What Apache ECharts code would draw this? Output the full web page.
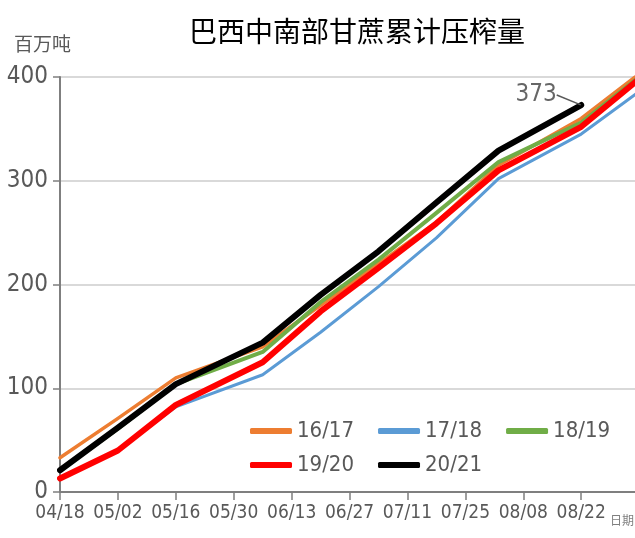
<!DOCTYPE html>
<html>
<head>
<meta charset="utf-8">
<script src="https://cdn.jsdelivr.net/npm/echarts@6/dist/echarts.min.js"></script>
<style>
  html, body { margin: 0; padding: 0; background: #fff; }
  #chart { width: 635px; height: 538px; }
</style>
</head>
<body>
<div id="chart"></div>
<script>
// days after 04/18 for each reading
const days = [0, 14, 28, 49, 63, 77, 91, 106, 126, 140];
const tickDays = [0, 14, 28, 42, 56, 70, 84, 98, 112, 126];
const tickLabels = ['04/18', '05/02', '05/16', '05/30', '06/13', '06/27', '07/11', '07/25', '08/08', '08/22'];

const s1617 = [33, 71, 110, 140, 180, 220, 260, 315, 360, 403];
const s1718 = [13, 40, 82, 113, 154, 198, 245, 302, 345, 386];
const s1819 = [21, 61, 104, 135, 183, 224, 269, 318, 356, 400];
const s1920 = [13, 40, 84, 125, 174, 216, 259, 310, 352, 398];
const s2021 = [21, 62, 104, 144, 190, 232, 279, 329, 373];

const font = "'Liberation Sans Narrow', 'DejaVu Sans Condensed', 'Liberation Sans', sans-serif";
const cjk = "'Noto Sans CJK SC', sans-serif";

function pairs(arr) {
    return arr.map((v, i) => [days[i], v]);
}

let myChart = echarts.init(document.getElementById('chart'));

function line(name, arr, color, width, z) {
    return {
        name: name,
        type: 'line',
        data: pairs(arr),
        symbol: 'none',
        z: z,
        lineStyle: { color: color, width: width, cap: 'round', join: 'round' },
        itemStyle: { color: color },
    };
}

const last = s2021.length - 1;

const legendText = { fontSize: 22, color: '#595959', fontFamily: font };

myChart.setOption({
    animation: false,
    title: {
        text: '巴西中南部甘蔗累计压榨量',
        left: 184,
        top: 12,
        textStyle: {
            fontFamily: cjk,
            fontSize: 28,
            fontWeight: 'normal',
            color: '#000',
        },
    },
    grid: { left: 60, right: 0, top: 77, bottom: 46 },
    legend: [{
        left: 245,
        top: 415,
        itemWidth: 42,
        itemHeight: 6,
        itemGap: 24,
        icon: 'roundRect',
        data: ['16/17', '17/18', '18/19'],
        textStyle: legendText,
    }, {
        left: 245,
        top: 449,
        itemWidth: 42,
        itemHeight: 6,
        itemGap: 24,
        icon: 'roundRect',
        data: ['19/20', '20/21'],
        textStyle: legendText,
    }],
    xAxis: {
        type: 'value',
        min: 0,
        max: 139,
        interval: 14,
        axisLine: { show: true, lineStyle: { color: '#7f7f7f', width: 2 } },
        axisTick: { show: true, length: 8, customValues: tickDays, lineStyle: { color: '#7f7f7f', width: 1.5 } },
        splitLine: { show: false },
        axisLabel: {
            customValues: tickDays,
            formatter(val) {
                const i = tickDays.indexOf(val);
                return i >= 0 ? tickLabels[i] : '';
            },
            margin: 12,
            fontSize: 19,
            color: '#595959',
            fontFamily: font,
        },
    },
    yAxis: {
        type: 'value',
        min: 0,
        max: 400,
        interval: 100,
        axisLine: { show: true, lineStyle: { color: '#7f7f7f', width: 2 } },
        axisTick: { show: true, length: 7, lineStyle: { color: '#7f7f7f', width: 1.5 } },
        splitLine: { lineStyle: { color: '#d9d9d9', width: 2 } },
        axisLabel: {
            margin: 12,
            fontSize: 24,
            color: '#595959',
            fontFamily: font,
        },
    },
    graphic: [
        {
            type: 'text',
            left: 14,
            top: 34,
            style: { text: '百万吨', fontSize: 19, fill: '#595959', fontFamily: cjk },
        },
        {
            type: 'text',
            left: 610,
            top: 514,
            style: { text: '日期', fontSize: 12, fill: '#7f7f7f', fontFamily: cjk },
        },
    ],
    series: [
        line('16/17', s1617, '#ED7D31', 3.5, 2),
        line('17/18', s1718, '#5B9BD5', 3, 1),
        line('18/19', s1819, '#70AD47', 4, 3),
        line('19/20', s1920, '#FF0000', 6, 4),
        line('20/21', s2021, '#000000', 6, 6),
        {
            type: 'scatter',
            data: [[days[last], s2021[last]]],
            symbolSize: 1,
            z: 7,
            itemStyle: { color: '#000' },
            label: {
                show: true,
                position: 'left',
                distance: 2,
                formatter: () => String(s2021[last]),
                color: '#404040',
                fontSize: 24,
                fontFamily: font,
            },
            labelLayout: { dx: -22, dy: -10 },
            labelLine: { show: true, lineStyle: { color: '#595959', width: 1.5 } },
        },
    ],
});
</script>
</body>
</html>
